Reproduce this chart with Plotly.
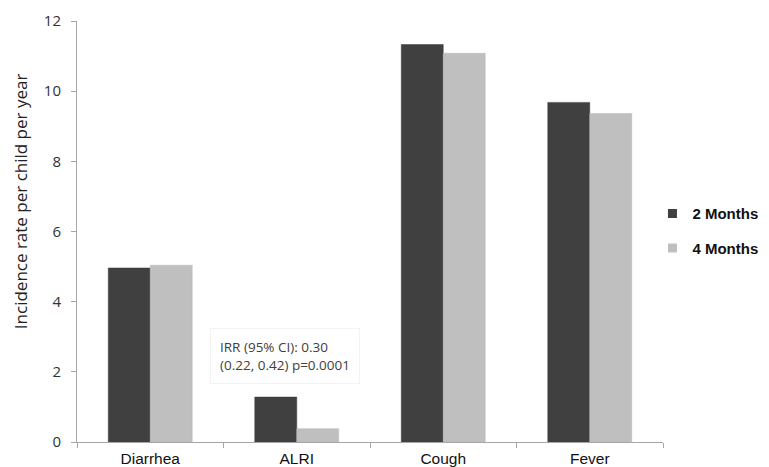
import plotly.graph_objects as go

categories = ["Diarrhea", "ALRI", "Cough", "Fever"]
months2 = [4.96, 1.28, 11.33, 9.68]
months4 = [5.04, 0.38, 11.08, 9.36]
series_names = ["2 Months", "4 Months"]
colors = ["#404040", "#bfbfbf"]
y_ticks = [0, 2, 4, 6, 8, 10, 12]

fig = go.Figure()
fig.add_trace(go.Bar(x=categories, y=months2, name=series_names[0], showlegend=False,
                     marker=dict(color=colors[0], line=dict(color="#3a3a3a", width=0.5))))
fig.add_trace(go.Bar(x=categories, y=months4, name=series_names[1], showlegend=False,
                     marker=dict(color=colors[1], line=dict(color="#b8b8b8", width=0.5))))
# legend entries (small squares like the original)
for i, nm in enumerate(series_names):
    fig.add_trace(go.Scatter(x=[None], y=[None], mode="markers", name=nm,
                             legendgroup=nm,
                             marker=dict(symbol="square", size=9, color=colors[i])))

fig.add_annotation(
    x=0.41, y=2.46, xref="x", yref="y",
    text="IRR (95% CI): 0.30<br>(0.22, 0.42) p=0.0001",
    showarrow=False, align="left", xanchor="left", yanchor="middle",
    font=dict(family="Open Sans", size=13.5, color="#404040"),
    bordercolor="#f3f3f3", borderwidth=1, borderpad=9, bgcolor="white",
)

fig.add_annotation(
    x=-0.0973, y=0.572, xref="paper", yref="paper",
    text="Incidence rate per child per year", textangle=-90,
    showarrow=False, xanchor="center", yanchor="middle",
    font=dict(family="Open Sans", size=17, color="#222222"),
)

fig.update_layout(
    width=761, height=459,
    margin=dict(l=69, r=106, t=13, b=25, autoexpand=False),
    paper_bgcolor="white", plot_bgcolor="white",
    barmode="group", bargap=0.427, bargroupgap=0,
    showlegend=True,
    legend=dict(x=0.982, y=0.502, xanchor="left", yanchor="middle",
                font=dict(family="Liberation Sans", size=15, color="#111111", weight="bold"),
                tracegroupgap=12, itemwidth=30),
    font=dict(family="Liberation Sans", color="#222222"),
)
fig.update_xaxes(
    showline=True, linecolor="#a6a6a6", linewidth=1,
    ticks="outside", tickson="boundaries", ticklen=5, tickcolor="#a6a6a6",
    tickfont=dict(family="Liberation Sans", size=15.5, color="#111111"),
    ticklabelstandoff=2,
    showgrid=False,
)
fig.update_yaxes(
    range=[0, 12], tickvals=y_ticks,
    showline=True, linecolor="#a6a6a6", linewidth=1,
    ticks="outside", ticklen=5, tickcolor="#a6a6a6",
    tickfont=dict(family="Open Sans", size=15, color="#333333"),
    ticklabelstandoff=7,
    showgrid=False, zeroline=False,
)

fig.write_html("out.html")
